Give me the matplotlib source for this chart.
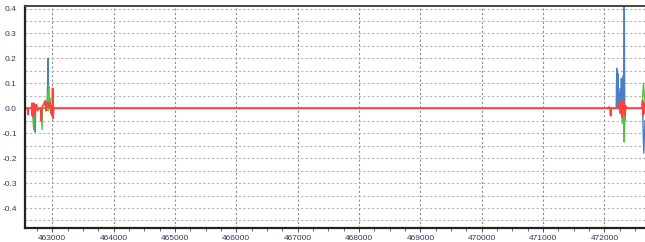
import numpy as np
import matplotlib.pyplot as plt
from matplotlib.ticker import MultipleLocator

# three channels, spiky values around two short bursts
red_x = [462560, 462600, 462606, 462612, 462665, 462672, 462678, 462685, 462692,
         462700, 462712, 462725, 462745, 462760, 462790, 462815, 462822, 462830,
         462850, 462870, 462885, 462900, 462915, 462935, 462950, 462965, 462980,
         462992, 463000, 463008, 463014, 463025,
         472060, 472070, 472090, 472100, 472108, 472230, 472245, 472260, 472272,
         472285, 472300, 472315, 472330, 472345, 472360, 472615, 472622, 472630,
         472638, 472645, 472660]
red_y = [0, 0, -0.025, 0, 0, 0.02, -0.03, 0.015, -0.035,
         0.02, -0.02, 0.01, 0.015, -0.01, 0.0, 0.0, -0.05, 0.0,
         0.01, 0.02, 0.03, -0.01, 0.02, 0.025, 0.005, 0.02, -0.02,
         0.005, -0.03, 0.08, -0.04, 0.0,
         0, 0.005, 0, -0.03, 0.0, 0.0, 0.02, -0.02, 0.03,
         -0.035, 0.025, 0.03, -0.03, 0.01, 0, 0, 0.03, -0.03,
         0.02, -0.02, 0]

green_x = [462560, 462680, 462690, 462700, 462710, 462820, 462835, 462845,
           462910, 462925, 462935, 462945, 462955, 462965, 462975,
           472240, 472270, 472290, 472305, 472320, 472330, 472345,
           472610, 472635, 472660]
green_y = [0, 0, -0.06, -0.085, 0.0, 0, -0.085, 0,
           0, 0.06, -0.01, 0.09, 0.0, 0.04, 0,
           0, 0, -0.06, 0.03, -0.135, -0.05, 0,
           0, 0.1, 0.02]

blue_x = [462560, 462700, 462712, 462722, 462732, 462920, 462932, 462940,
          462948, 462960,
          472190, 472200, 472208, 472218, 472226, 472255, 472262, 472275,
          472285, 472300, 472312, 472322, 472330, 472340,
          472620, 472640, 472660]
blue_y = [0, 0, -0.05, -0.095, 0, 0, 0.2, 0.0,
          0.05, 0,
          0, 0.16, 0.0, 0.14, 0, 0.08, -0.01, 0.12,
          0.02, 0.13, -0.02, 0.45, -0.05, 0,
          0, -0.18, -0.05]

plt.rcParams['font.family'] = ['Liberation Sans Narrow', 'Liberation Sans', 'DejaVu Sans']

fig = plt.figure(figsize=(6.45, 2.42), dpi=100)
ax = fig.add_axes([0.039, 0.058, 0.961, 0.917])

ax.plot(blue_x, blue_y, color='#4a7fc4', lw=1.0)
ax.plot(green_x, green_y, color='#5cbf45', lw=1.0)
ax.plot(red_x, red_y, color='#ff4040', lw=1.3)

ax.set_xlim(462560, 472660)
ax.set_ylim(-0.48, 0.41)

ax.xaxis.set_major_locator(MultipleLocator(1000))
ax.xaxis.set_minor_locator(MultipleLocator(250))
ax.yaxis.set_major_locator(MultipleLocator(0.1))
ax.yaxis.set_minor_locator(MultipleLocator(0.05))
ax.yaxis.set_major_formatter(plt.FuncFormatter(lambda v, p: '%.1f' % v))

ax.grid(True, which='major', axis='x', ls=(0, (2, 2)), color='#8c8c8c', lw=0.8)
ax.grid(True, which='both', axis='y', ls=(0, (2, 2)), color='#b4b4b4', lw=0.8)

ax.tick_params(axis='both', which='major', labelsize=6, colors='#333333',
               labelcolor='#2c3e5c', length=3, width=0.6, pad=2)
ax.tick_params(axis='x', which='minor', length=2, width=0.5, colors='#333333')
ax.tick_params(axis='y', which='minor', length=0)
ax.tick_params(axis='y', which='major', length=0, pad=6)

for s in ['left', 'bottom']:
    ax.spines[s].set_linewidth(1.6)
    ax.spines[s].set_color('#222222')
ax.spines['top'].set_linewidth(1.4)
ax.spines['top'].set_color('#444444')
ax.spines['right'].set_visible(False)

fig.savefig('out.png', dpi=100)
